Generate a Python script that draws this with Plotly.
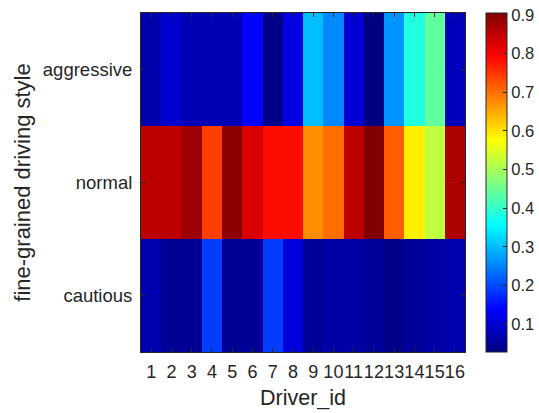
import plotly.graph_objects as go

# Style probabilities per driver (columns) for each fine-grained style (rows)
driver_ids = list(range(1, 17))
styles = ["aggressive", "normal", "cautious"]

aggressive = [0.066, 0.096, 0.074, 0.074, 0.074, 0.140, 0.036, 0.113,
              0.301, 0.255, 0.100, 0.028, 0.265, 0.384, 0.440, 0.078]
normal = [0.853, 0.853, 0.880, 0.742, 0.894, 0.829, 0.785, 0.785,
          0.673, 0.700, 0.853, 0.905, 0.715, 0.590, 0.522, 0.866]
cautious = [0.070, 0.045, 0.045, 0.190, 0.045, 0.045, 0.190, 0.110,
            0.050, 0.060, 0.060, 0.050, 0.036, 0.050, 0.060, 0.070]

colorbar_ticks = [0.1, 0.2, 0.3, 0.4, 0.5, 0.6, 0.7, 0.8, 0.9]

# MATLAB-style jet colormap
jet = [
    [0.0, "rgb(0,0,128)"],
    [0.125, "rgb(0,0,255)"],
    [0.375, "rgb(0,255,255)"],
    [0.625, "rgb(255,255,0)"],
    [0.875, "rgb(255,0,0)"],
    [1.0, "rgb(128,0,0)"],
]

text_color = "#262626"
font_family = "Liberation Sans, Arial, sans-serif"

fig = go.Figure(
    go.Heatmap(
        z=[aggressive, normal, cautious],
        x=driver_ids,
        y=styles,
        colorscale=jet,
        xgap=0,
        ygap=0,
        colorbar=dict(
            xref="container",
            x=486 / 539,
            xanchor="left",
            y=0.5,
            yanchor="middle",
            len=1.0,
            lenmode="fraction",
            thickness=21,
            thicknessmode="pixels",
            outlinecolor=text_color,
            outlinewidth=1,
            tickvals=colorbar_ticks,
            ticktext=[f"{v:.1f}" for v in colorbar_ticks],
            ticks="inside",
            ticklen=4,
            tickcolor=text_color,
            tickfont=dict(size=16.5, color=text_color, family=font_family),
            xpad=0,
            ypad=0,
        ),
    )
)

fig.update_layout(
    width=539,
    height=413,
    margin=dict(l=141, r=74, t=13, b=61, autoexpand=False),
    paper_bgcolor="white",
    plot_bgcolor="white",
    font=dict(family=font_family, color=text_color),
    xaxis=dict(
        tickmode="array",
        tickvals=driver_ids,
        ticktext=[str(d) for d in driver_ids],
        tickangle=0,
        ticks="inside",
        ticklen=4,
        tickcolor=text_color,
        showline=True,
        linecolor=text_color,
        linewidth=1,
        mirror="ticks",
        ticklabelstandoff=3,
        tickfont=dict(size=18, color=text_color),
        title=dict(text="Driver_id", font=dict(size=21.5, color=text_color), standoff=9),
        range=[0.5, 16.5],
        showgrid=False,
        zeroline=False,
    ),
    yaxis=dict(
        autorange="reversed",
        ticks="inside",
        ticklen=4,
        tickcolor=text_color,
        showline=True,
        linecolor=text_color,
        linewidth=1,
        mirror="ticks",
        ticklabelstandoff=4,
        tickfont=dict(size=18.5, color=text_color),
        title=dict(text="fine-grained driving style", font=dict(size=22, color=text_color), standoff=6),
        showgrid=False,
        zeroline=False,
    ),
)

fig.write_html("out.html")
